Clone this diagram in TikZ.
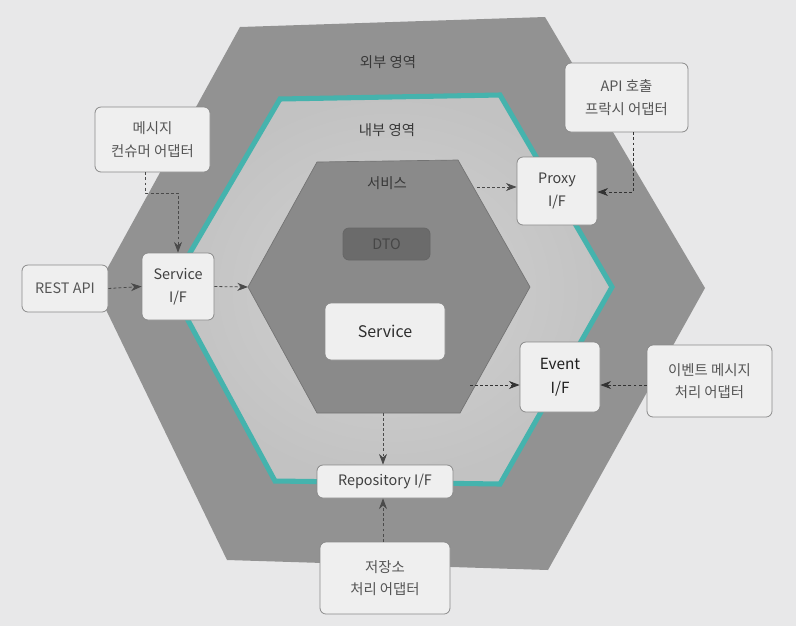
\documentclass[tikz,border=0pt]{standalone}
\usepackage{fontspec}
\setmainfont{Noto Sans CJK KR}
\usetikzlibrary{arrows.meta,calc}
\definecolor{bgc}{HTML}{E8E8E9}
\definecolor{outerc}{HTML}{929292}
\definecolor{innerc}{HTML}{C2C2C2}
\definecolor{innerlt}{HTML}{D2D2D2}
\definecolor{svcc}{HTML}{8A8A8A}
\definecolor{tealc}{HTML}{45B3AD}
\definecolor{boxc}{HTML}{EFEFEF}
\definecolor{boxline}{HTML}{8A8A8A}
\definecolor{txtc}{HTML}{555555}
\definecolor{dtoc}{HTML}{6B6B6B}
\definecolor{arrc}{HTML}{4A4A4A}
\tikzset{
  wh/.style 2 args={minimum width=#1*0.75pt, minimum height=#2*0.75pt},
  box/.style={draw=boxline, line width=0.6pt, fill=boxc, rounded corners=4.5pt,
    inner sep=2pt, align=center, text=txtc, font=\fontsize{10.8}{17}\selectfont},
  ifbox/.style={box, text=black!75},
  lbl/.style={text=black!78, font=\fontsize{10.8}{12}\selectfont},
  arr/.style={draw=arrc, line width=0.6pt, dash pattern=on 2.2pt off 1.6pt,
    -{Stealth[length=8pt,width=6pt]}},
}
\begin{document}
\begin{tikzpicture}[x=0.75pt,y=-0.75pt]
\useasboundingbox (0,0) rectangle (796,626);
\fill[bgc] (0,0) rectangle (796,626);
% outer region
\fill[outerc] (240,27) -- (545,17) -- (705,288) -- (548,570) -- (227,560) -- (96,289) -- cycle;
% inner region with teal border
\shade[inner color=innerlt, outer color=innerc]
  (280,99) -- (500,95) -- (612,287) -- (500,484) -- (275,481) -- (170,287) -- cycle;
\draw[draw=tealc, line width=3.8pt, line join=miter]
  (280,99) -- (500,95) -- (612,287) -- (500,484) -- (275,481) -- (170,287) -- cycle;
% service hexagon
\filldraw[fill=svcc, draw=black!55, line width=0.5pt]
  (317,162) -- (458,160) -- (530,287) -- (460,413) -- (317,413) -- (248,287) -- cycle;
\coordinate (hexL) at (248,287);
\coordinate (hexP) at (477,187);
\coordinate (hexE) at (470,385);
\coordinate (hexB) at (383,413);

% labels
\node[lbl] (outerlbl) at (388,62) {외부 영역};
\node[lbl] (innerlbl) at (387,130) {내부 영역};
\node[lbl] (svclbl) at (387,183) {서비스};

% boxes
\node[box, wh={87}{32}, fill=dtoc, draw=black!60, text=black!72] (dto) at (386.5,244) {DTO};
\node[box, wh={120}{57}, text=black!82, font=\fontsize{12}{17}\selectfont] (svc) at (385,331.5) {Service};
\node[box, wh={115}{65}] (cons) at (152.5,139.5) {메시지\\컨슈머 어댑터};
\node[box, wh={123}{69}] (apiad) at (626.5,97.5) {API 호출\\프락시 어댑터};
\node[ifbox, wh={80}{68}] (prox) at (557,191) {Proxy\\I/F};
\node[ifbox, wh={72}{67}] (sif) at (178,286.5) {Service\\I/F};
\node[box, wh={86}{47}] (rest) at (65,288.5) {REST API};
\node[ifbox, wh={80}{70}, text=black!88, font=\fontsize{11.5}{18}\selectfont] (ev) at (560,377) {Event\\I/F};
\node[box, wh={125}{72}] (evad) at (709.5,381) {이벤트 메시지\\처리 어댑터};
\node[ifbox, wh={136}{33}] (repo) at (385,481.5) {Repository I/F};
\node[box, wh={130}{72}] (sto) at (385,578) {저장소\\처리 어댑터};

% connectors
\coordinate (c1) at (178,193);
\draw[arr] ([xshift=-5pt]cons.south) |- (c1) -- (sif.north);
\draw[arr] (rest.east) -- (sif.west);
\draw[arr] (sif.east) -- (hexL);
\draw[arr] (hexP) -- (hexP -| prox.west);
\coordinate (a1) at (633,192);
\draw[arr, draw=black!80] (apiad.south -| a1) -- (a1) -- (a1 -| prox.east);
\draw[arr, draw=black!80] (hexE) -- (hexE -| ev.west);
\draw[arr, draw=black!80] (hexE -| evad.west) -- (hexE -| ev.east);
\draw[arr] (hexB) -- (hexB |- repo.north);
\draw[arr] (hexB |- sto.north) -- (hexB |- repo.south);
\end{tikzpicture}
\end{document}
